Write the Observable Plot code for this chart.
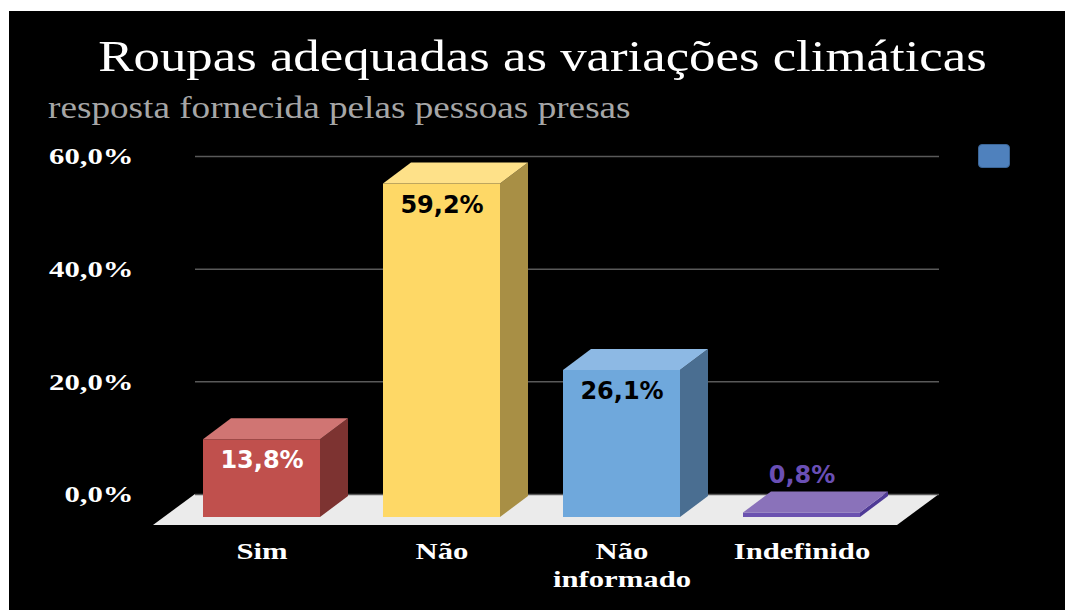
<!DOCTYPE html>
<html><head><meta charset="utf-8">
<script src="https://cdn.jsdelivr.net/npm/d3@7"></script>
<script src="https://cdn.jsdelivr.net/npm/@observablehq/plot@0.6"></script>
<style>
html,body{margin:0;padding:0;background:#fff;width:1065px;height:610px;overflow:hidden;position:relative;}
#panel{position:absolute;left:9px;top:11px;width:1056px;height:599px;background:#000;}
#title{position:absolute;left:10px;top:35px;width:1065px;text-align:center;font-family:"Liberation Serif",serif;font-size:44px;line-height:44px;color:#fff;transform:scaleX(1.2);transform-origin:50% 0;white-space:nowrap;}
#subtitle{position:absolute;left:48px;top:92px;font-family:"Liberation Serif",serif;font-size:31px;line-height:31px;color:#a6a6a6;transform:scaleX(1.2);transform-origin:0 0;white-space:nowrap;}
#legend{position:absolute;left:978px;top:144px;width:30px;height:22px;background:#4f81bd;border:1px solid #3b6596;border-radius:4px;}
</style>
</head><body>
<div id="panel"></div>
<div id="title">Roupas adequadas as variações climáticas</div>
<div id="subtitle">resposta fornecida pelas pessoas presas</div>
<div id="legend"></div>
<script>
// ---- data ----
const categories = ["Sim", "Não", "Não informado", "Indefinido"];
const values = [13.8, 59.2, 26.1, 0.8];
const valueLabels = ["13,8%", "59,2%", "26,1%", "0,8%"];
const xTickLabels = ["Sim", "Não", "Não\ninformado", "Indefinido"];
const yTicks = [0, 20, 40, 60];
const yTickLabels = ["0,0%", "20,0%", "40,0%", "60,0%"];

// ---- styles (kept apart from data) ----
const frontColors = ["#c0504d", "#fed866", "#6fa8dc", "#6b52b0"];
const topColors = ["#d07573", "#fee189", "#8db9e4", "#8a72ba"];
const sideColors = ["#7d3331", "#a88f45", "#4a6e91", "#4f3a96"];
const labelColors = ["#ffffff", "#000000", "#000000", "#6a4fb5"];
const DX = 28, DY = 21;           // bar depth in pixels
const BACK_DX = 31, BACK_DY = 23; // back wall offset

const rows = categories.map((c, i) => ({cat: c, value: values[i], label: valueLabels[i], i}));

function floorMark(index, scales, vals, dim) {
  const y0 = scales.y(0);
  const left = dim.marginLeft, right = dim.width - dim.marginRight;
  const pts = [[left - 11, y0 + 8], [right - 11, y0 + 8], [right + BACK_DX, y0 - BACK_DY], [left + BACK_DX, y0 - BACK_DY]];
  const g = d3.create("svg:g");
  g.append("polygon").attr("points", pts.map(p => p.join(",")).join(" ")).attr("fill", "#ebebeb");
  return g.node();
}

function barFaces(index, scales) {
  const g = d3.create("svg:g");
  const bw = typeof scales.x.bandwidth === "function" ? scales.x.bandwidth() : scales.x.bandwidth;
  rows.forEach(d => {
    const x0 = scales.x(d.cat), x1 = x0 + bw, yt = scales.y(d.value), yb = scales.y(0);
    const side = [[x1, yt], [x1 + DX, yt - DY], [x1 + DX, yb - DY], [x1, yb]];
    const top = [[x0, yt], [x1, yt], [x1 + DX, yt - DY], [x0 + DX, yt - DY]];
    g.append("polygon").attr("points", side.map(p => p.join(",")).join(" ")).attr("fill", sideColors[d.i]);
    g.append("polygon").attr("points", top.map(p => p.join(",")).join(" ")).attr("fill", topColors[d.i]);
  });
  return g.node();
}

const inside = rows.filter(d => d.value > 5);
const outside = rows.filter(d => d.value <= 5);

const svg = Plot.plot({
  width: 1065,
  height: 610,
  marginLeft: 164,
  marginRight: 157,
  marginTop: 179,
  marginBottom: 93,
  style: {background: "transparent", color: "white", position: "absolute", left: "0px", top: "0px", overflow: "visible"},
  x: {domain: categories, paddingInner: 0.35, paddingOuter: 0.24, align: 0.45},
  y: {domain: [0, 60]},
  color: {type: "identity"},
  marks: [
    floorMark,
    Plot.ruleY(yTicks, {y: d => d, dx: BACK_DX, dy: -BACK_DY, stroke: "#595959", strokeWidth: 1.5}),
    Plot.axisY({ticks: yTicks, tickSize: 0, tickPadding: 31, dy: -BACK_DY,
      tickFormat: d => yTickLabels[yTicks.indexOf(d)],
      fontFamily: "Liberation Serif", fontWeight: "bold", fontSize: 24, fill: "white", label: null}),
    Plot.barY(rows, {x: "cat", y: "value", fill: d => frontColors[d.i]}),
    barFaces,
    Plot.text(inside, {x: "cat", y: "value", text: "label", dy: 21, fill: d => labelColors[d.i],
      fontFamily: "DejaVu Sans", fontWeight: "bold", fontSize: 24}),
    Plot.text(outside, {x: "cat", y: "value", text: "label", dy: -38, fill: d => labelColors[d.i],
      fontFamily: "DejaVu Sans", fontWeight: "bold", fontSize: 24}),
    Plot.axisX({tickSize: 0, tickPadding: 22, tickFormat: d => xTickLabels[categories.indexOf(d)],
      fontFamily: "Liberation Serif", fontWeight: "bold", fontSize: 24, lineHeight: 1.15, fill: "white", label: null})
  ]
});
document.body.appendChild(svg);

// stretch serif axis text horizontally to match the reference's wide lettering
const S = 1.28;
svg.querySelectorAll("text").forEach(t => {
  const cs = getComputedStyle(t);
  if (!/Liberation Serif/.test(cs.fontFamily)) return;
  const b = t.getBBox();
  const anchor = cs.textAnchor;
  const ax = anchor === "end" ? b.x + b.width : anchor === "middle" ? b.x + b.width / 2 : b.x;
  const prev = t.getAttribute("transform") || "";
  t.setAttribute("transform", `${prev} translate(${ax},0) scale(${S},1) translate(${-ax},0)`);
});
</script>
</body></html>
